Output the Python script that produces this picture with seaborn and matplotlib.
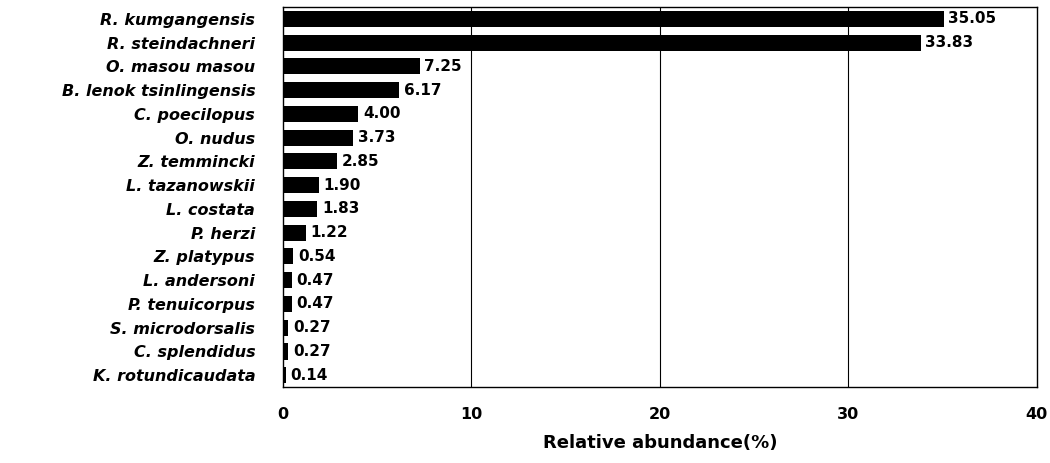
import matplotlib
matplotlib.use("Agg")
import matplotlib.pyplot as plt
import seaborn as sns
import pandas as pd

species = ["R. kumgangensis", "R. steindachneri", "O. masou masou", "B. lenok tsinlingensis",
           "C. poecilopus", "O. nudus", "Z. temmincki", "L. tazanowskii", "L. costata",
           "P. herzi", "Z. platypus", "L. andersoni", "P. tenuicorpus", "S. microdorsalis",
           "C. splendidus", "K. rotundicaudata"]
abundance = [35.05, 33.83, 7.25, 6.17, 4.00, 3.73, 2.85, 1.90, 1.83, 1.22, 0.54, 0.47, 0.47,
             0.27, 0.27, 0.14]
xticks = [0, 10, 20, 30, 40]

df = pd.DataFrame({"species": species, "abundance": abundance})

sns.set_theme(style="white")
plt.rcParams['font.family'] = ['DejaVu Sans']
plt.rcParams.update({"text.color": "black", "xtick.color": "black", "ytick.color": "black",
                     "axes.labelcolor": "black", "axes.edgecolor": "black"})

fig = plt.figure(figsize=(10.5, 4.63), dpi=100)
ax = fig.add_axes([0.2695, 0.164, 0.718, 0.821])
sns.barplot(data=df, x="abundance", y="species", orient="h", color="black",
            width=0.68, ax=ax, saturation=1, linewidth=0)

ax.set_xlim(0, 40)
ax.set_ylim(len(species) - 0.5, -0.5)
ax.set_xticks(xticks)
ax.set_xticklabels([str(t) for t in xticks], fontsize=11.5, fontweight="bold")
ax.tick_params(axis="x", length=0, pad=14)
ax.tick_params(axis="y", length=0, pad=20)
for lbl in ax.get_yticklabels():
    lbl.set_fontsize(11.5)
    lbl.set_fontweight("bold")
    lbl.set_fontstyle("italic")
    lbl.set_color("black")
for x in xticks[1:-1]:
    ax.axvline(x, color="black", lw=0.8, zorder=0)
for s in ax.spines.values():
    s.set_color("black")
    s.set_linewidth(1.0)

for i, v in enumerate(abundance):
    ax.text(v + 0.25, i, f"{v:.2f}", va="center", ha="left", fontsize=11,
            fontweight="bold", color="black")

ax.set_ylabel("")
ax.set_xlabel("Relative abundance(%)", fontsize=13, fontweight="bold", labelpad=9)

fig.savefig("out.png", dpi=100)
